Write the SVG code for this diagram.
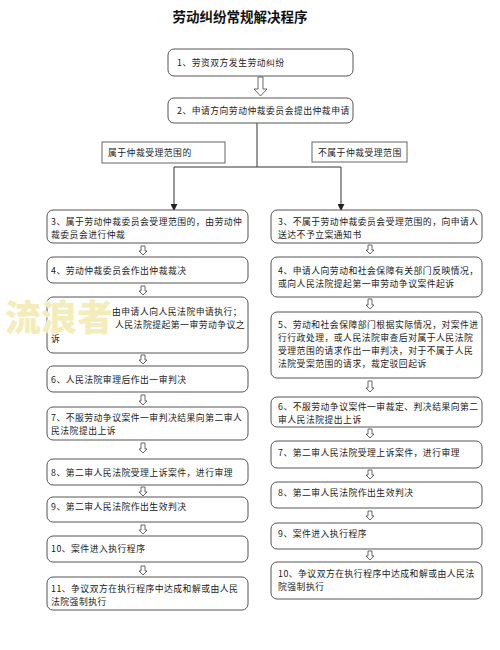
<svg xmlns="http://www.w3.org/2000/svg" width="500" height="650" viewBox="0 0 500 650">
<defs>
<style>
.t{font-family:"Noto Sans CJK SC","Noto Sans",sans-serif;font-size:8.8px;letter-spacing:0.5px;fill:#1a1a1a}
.title{font-family:"Noto Sans CJK SC","Noto Sans",sans-serif;font-size:13.5px;font-weight:bold;fill:#111}
.box{fill:#fff;stroke:#555;stroke-width:1}
.lab{fill:#fff;stroke:#555;stroke-width:0.9}
.ha{fill:#fff;stroke:#444;stroke-width:0.8}
.ln{fill:none;stroke:#333;stroke-width:1}
.wm{font-family:"Noto Sans CJK SC",sans-serif;font-size:36px;font-weight:900;fill:#f4edbb}
</style>
<marker id="ah" viewBox="0 0 8 8" refX="7" refY="4" markerWidth="7" markerHeight="7" orient="auto" markerUnits="userSpaceOnUse">
<path d="M0,0 L8,4 L0,8 z" fill="#222"/>
</marker>
</defs>
<rect width="500" height="650" fill="#fff"/>
<text class="title" x="240" y="22" text-anchor="middle">劳动纠纷常规解决程序</text>

<g id="connectors">
<path class="ha" d="M258,77 h5 v12 h4 l-6.5,7 l-6.5,-7 h4 z"/>
<path class="ln" d="M257,123 V167 M174,167 H341"/>
<line class="ln" x1="174" y1="167" x2="174" y2="210" marker-end="url(#ah)"/>
<line class="ln" x1="341" y1="167" x2="341" y2="210" marker-end="url(#ah)"/>
<path class="ha" d="M141,246 h4 v5 h2 l-4,4 l-4,-4 h2 z"/>
<path class="ha" d="M141,286 h4 v5 h2 l-4,4 l-4,-4 h2 z"/>
<path class="ha" d="M141,355 h4 v5 h2 l-4,4 l-4,-4 h2 z"/>
<path class="ha" d="M141,395 h4 v6 h2 l-4,4 l-4,-4 h2 z"/>
<path class="ha" d="M141,443 h4 v6 h2 l-4,4 l-4,-4 h2 z"/>
<path class="ha" d="M141,487 h4 v5 h2 l-4,4 l-4,-4 h2 z"/>
<path class="ha" d="M141,525 h4 v5 h2 l-4,4 l-4,-4 h2 z"/>
<path class="ha" d="M141,566 h4 v5 h2 l-4,4 l-4,-4 h2 z"/>
<path class="ha" d="M368,245 h4 v5 h2 l-4,4 l-4,-4 h2 z"/>
<path class="ha" d="M368,299 h4 v6 h2 l-4,4 l-4,-4 h2 z"/>
<path class="ha" d="M368,381 h4 v7 h2 l-4,4 l-4,-4 h2 z"/>
<path class="ha" d="M368,429 h4 v5 h2 l-4,4 l-4,-4 h2 z"/>
<path class="ha" d="M368,470 h4 v5 h2 l-4,4 l-4,-4 h2 z"/>
<path class="ha" d="M368,511 h4 v5 h2 l-4,4 l-4,-4 h2 z"/>
<path class="ha" d="M368,551 h4 v5 h2 l-4,4 l-4,-4 h2 z"/>
</g>

<g id="n1"><rect class="box" x="168" y="49" width="185" height="27" rx="6"/><text class="t" x="177" y="66">1、劳资双方发生劳动纠纷</text></g>
<g id="n2"><rect class="box" x="168" y="98" width="185" height="25" rx="6"/><text class="t" x="177" y="114">2、申请方向劳动仲裁委员会提出仲裁申请</text></g>

<g id="lab1"><rect class="lab" x="102" y="142" width="123" height="21"/><text class="t" x="108" y="156">属于仲裁受理范围的</text></g>
<g id="lab2"><rect class="lab" x="312" y="142" width="95" height="20"/><text class="t" x="318" y="156">不属于仲裁受理范围</text></g>

<g id="L3"><rect class="box" x="47" y="210" width="201" height="33" rx="6"/><text class="t" x="51" y="225">3、属于劳动仲裁委员会受理范围的，由劳动仲</text><text class="t" x="51" y="238">裁委员会进行仲裁</text></g>
<g id="L4"><rect class="box" x="47" y="257" width="201" height="26" rx="6"/><text class="t" x="51" y="273.5">4、劳动仲裁委员会作出仲裁裁决</text></g>
<g id="L5"><rect class="box" x="47" y="297" width="201" height="56" rx="6"/><text class="t" x="112" y="315">由申请人向人民法院申请执行；</text><text class="t" x="115" y="328">人民法院提起第一审劳动争议之</text><text class="t" x="51" y="341.5">诉</text></g>
<g id="L6"><rect class="box" x="47" y="366" width="201" height="26" rx="6"/><text class="t" x="51" y="382.5">6、人民法院审理后作出一审判决</text></g>
<g id="L7"><rect class="box" x="47" y="407" width="201" height="33" rx="6"/><text class="t" x="51" y="420.5">7、不服劳动争议案件一审判决结果向第二审人</text><text class="t" x="51" y="433.5">民法院提出上诉</text></g>
<g id="L8"><rect class="box" x="47" y="459" width="201" height="26" rx="6"/><text class="t" x="51" y="475.5">8、第二审人民法院受理上诉案件，进行审理</text></g>
<g id="L9"><rect class="box" x="47" y="497" width="201" height="25" rx="6"/><text class="t" x="51" y="510">9、第二审人民法院作出生效判决</text></g>
<g id="L10"><rect class="box" x="47" y="536" width="201" height="26" rx="6"/><text class="t" x="51" y="551.5">10、案件进入执行程序</text></g>
<g id="L11"><rect class="box" x="47" y="577" width="201" height="33" rx="6"/><text class="t" x="51" y="591.5">11、争议双方在执行程序中达成和解或由人民</text><text class="t" x="51" y="604.5">法院强制执行</text></g>

<g id="R3"><rect class="box" x="271" y="210" width="211" height="33" rx="6"/><text class="t" x="278" y="225">3、不属于劳动仲裁委员会受理范围的，向申请人</text><text class="t" x="278" y="238">送达不予立案通知书</text></g>
<g id="R4"><rect class="box" x="271" y="257" width="211" height="40" rx="6"/><text class="t" x="278" y="274">4、申请人向劳动和社会保障有关部门反映情况，</text><text class="t" x="278" y="287">或向人民法院提起第一审劳动争议案件起诉</text></g>
<g id="R5"><rect class="box" x="271" y="312" width="211" height="66" rx="6"/><text class="t" x="278" y="328">5、劳动和社会保障部门根据实际情况，对案件进</text><text class="t" x="278" y="341">行行政处理，或人民法院审查后对属于人民法院</text><text class="t" x="278" y="354">受理范围的请求作出一审判决，对于不属于人民</text><text class="t" x="278" y="367">法院受案范围的请求，裁定驳回起诉</text></g>
<g id="R6"><rect class="box" x="271" y="397" width="211" height="30" rx="6"/><text class="t" x="278" y="409.5">6、不服劳动争议案件一审裁定、判决结果向第二</text><text class="t" x="278" y="422.5">审人民法院提出上诉</text></g>
<g id="R7"><rect class="box" x="271" y="441" width="211" height="27" rx="6"/><text class="t" x="278" y="456">7、第二审人民法院受理上诉案件，进行审理</text></g>
<g id="R8"><rect class="box" x="271" y="482" width="211" height="26" rx="6"/><text class="t" x="278" y="496">8、第二审人民法院作出生效判决</text></g>
<g id="R9"><rect class="box" x="271" y="523" width="211" height="26" rx="6"/><text class="t" x="278" y="537">9、案件进入执行程序</text></g>
<g id="R10"><rect class="box" x="271" y="562" width="211" height="37" rx="6"/><text class="t" x="278" y="577">10、争议双方在执行程序中达成和解或由人民法</text><text class="t" x="278" y="590">院强制执行</text></g>

<text class="wm" x="5" y="331">流浪者</text>
</svg>
